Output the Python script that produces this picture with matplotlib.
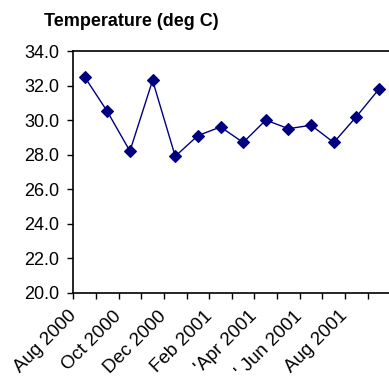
import numpy as np
import matplotlib.pyplot as plt
from matplotlib.transforms import ScaledTranslation

plt.rcParams['font.family'] = ['Liberation Sans', 'DejaVu Sans']

# Monthly mean temperature, Aug 2000 - Sep 2001
months = ['Aug 2000', 'Sep 2000', 'Oct 2000', 'Nov 2000', 'Dec 2000', 'Jan 2001',
          'Feb 2001', 'Mar 2001', "'Apr 2001", 'May 2001', "' Jun 2001", 'Jul 2001',
          'Aug 2001', 'Sep 2001']
temps = [32.5, 30.5, 28.2, 32.3, 27.9, 29.1, 29.6, 28.7, 30.0, 29.5, 29.7, 28.7, 30.2, 31.8]

fig = plt.figure(figsize=(3.89, 3.81), dpi=100)
ax = fig.add_axes([0.1885, 0.232, 0.815, 0.634])

x = np.arange(len(temps))
ax.plot(x, temps, color='#000080', lw=1.0, marker='D', ms=6.5, mew=0.8)

ax.set_xlim(-0.5, len(temps) - 0.5)
ax.set_ylim(20, 34)
ax.set_yticks(np.arange(20, 34.1, 2))
ax.set_yticklabels([f'{v:.1f}' for v in np.arange(20, 34.1, 2)], fontsize=13)

# category boundary ticks, labels on every second month
ax.set_xticks(np.arange(-0.5, len(temps), 1.0))
ax.set_xticklabels([])
ax.set_xticks(x[::2], minor=True)
ax.set_xticklabels(months[::2], minor=True, rotation=45, ha='right', va='center',
                   rotation_mode='anchor', fontsize=13.5)
ax.tick_params(axis='x', which='minor', length=0, pad=0)
ax.tick_params(axis='both', which='major', direction='out', length=4.5, width=1,
               color='black')
ax.tick_params(axis='y', pad=5.5)
off = ScaledTranslation(-8 / 72, -15 / 72, fig.dpi_scale_trans)
for lab in ax.get_xticklabels(minor=True):
    lab.set_transform(lab.get_transform() + off)

for s in ['left', 'bottom', 'top']:
    ax.spines[s].set_linewidth(1.2)
ax.spines['right'].set_visible(False)

fig.text(44 / 389, 1 - 21 / 381, 'Temperature (deg C)', fontsize=13, fontweight='bold',
         ha='left', va='center')

fig.savefig('out.png', dpi=100)
